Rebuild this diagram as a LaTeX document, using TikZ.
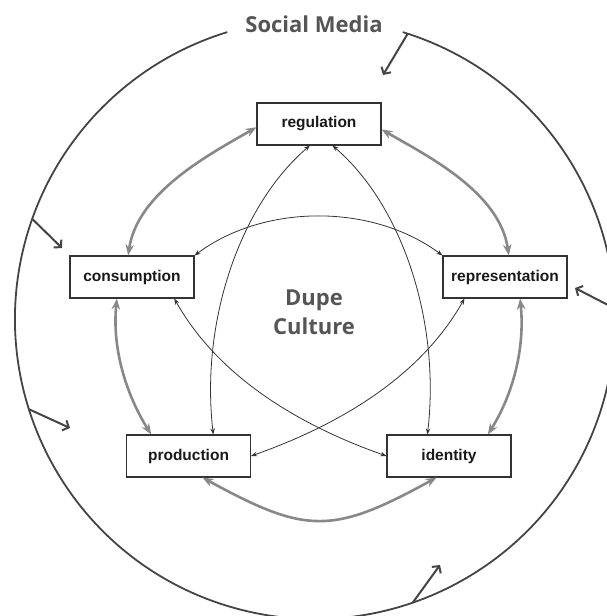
\documentclass[tikz,border=0pt]{standalone}
\usepackage{fontspec}
\setmainfont{Liberation Sans}
\newfontfamily\headfont{Open Sans}
\usetikzlibrary{arrows.meta}
\definecolor{cFrame}{RGB}{68,68,68}
\definecolor{cLink}{RGB}{136,136,136}
\definecolor{cThin}{RGB}{51,51,51}
\definecolor{cHead}{RGB}{85,85,85}
\tikzset{
	box/.style      ={rectangle, draw=cThin, line width=1.1pt, minimum width=124pt, minimum height=42pt, inner sep=0pt, font=\fontsize{15.5}{18}\selectfont\bfseries, text=black!90},
	outerlink/.style={{Stealth[length=11pt,width=8.5pt]}-{Stealth[length=11pt,width=8.5pt]}, line width=2.6pt, cLink},
	innerlink/.style={{Stealth[length=6pt,width=4.5pt]}-{Stealth[length=6pt,width=4.5pt]}, line width=0.8pt, cThin},
	pull/.style     ={-{Straight Barb[length=5pt,width=11pt]}, line width=2pt, cFrame},
	headline/.style ={font=\headfont\fontsize{22}{29}\selectfont\bfseries, text=cHead, align=center},
}

\begin{document}
\begin{tikzpicture}[x=1pt, y=-1pt]
	\useasboundingbox (0,0) rectangle (606,616);
	% ring with a gap for the title
	\coordinate (ctr) at (315,319);
	\draw[line width=1.8pt, cFrame] (ctr) ++(-73:300) arc[start angle=-73, end angle=253, radius=300];
	\node[headline, anchor=base] (title) at (314,32) {Social Media};
	\node[headline] (core) at (314,312) {Dupe\\Culture};
	% the five boxes
	\node[box] (reg)  at (319,124)   {regulation};
	\node[box] (cons) at (132,277)   {consumption};
	\node[box] (rep)  at (505,277)   {representation};
	\node[box] (prod) at (188.5,456) {production};
	\node[box] (iden) at (449,456)   {identity};
	% neighbours
	\draw[outerlink] (reg.183) .. controls +(-47,27) and +(9,-63) .. (cons.100);
	\draw[outerlink] (reg.355) .. controls +(47,27) and +(-9,-63) .. (rep.80);
	\draw[outerlink] (cons.235) .. controls +(-5,50) and +(-25,-40) .. (prod.150);
	\draw[outerlink] (rep.305) .. controls +(5,50) and +(25,-40) .. (iden.29);
	\draw[outerlink] (prod.303) .. controls +(104,57) and +(-104,57) .. (iden.240);
	% across
	\draw[innerlink] (reg.247) .. controls +(-70,60) and +(-13,-113) .. (prod.41);
	\draw[innerlink] (reg.302) .. controls +(70,60) and +(13,-113) .. (iden.135);
	\draw[innerlink] (cons.north east) .. controls +(70,-52) and +(-70,-52) .. (rep.north west);
	\draw[innerlink] (cons.333) .. controls +(45,80) and +(-85,-30) .. (iden.west);
	\draw[innerlink] (rep.208) .. controls +(-45,80) and +(85,-30) .. (prod.east);
	% pressure from the ring
	\coordinate (onA) at (407.7,33.7); \coordinate (inA) at (383,75);
	\coordinate (onB) at (32.2,218.9); \coordinate (inB) at (62,248);
	\coordinate (onC) at (28.9,409.2); \coordinate (inC) at (70,428);
	\coordinate (onD) at (412.7,602.7); \coordinate (inD) at (440,565);
	\coordinate (onE) at (614.8,308.5); \coordinate (inE) at (575,288);
	\foreach \k in {A,B,C,D,E} \draw[pull] (on\k) -- (in\k);
\end{tikzpicture}
\end{document}
